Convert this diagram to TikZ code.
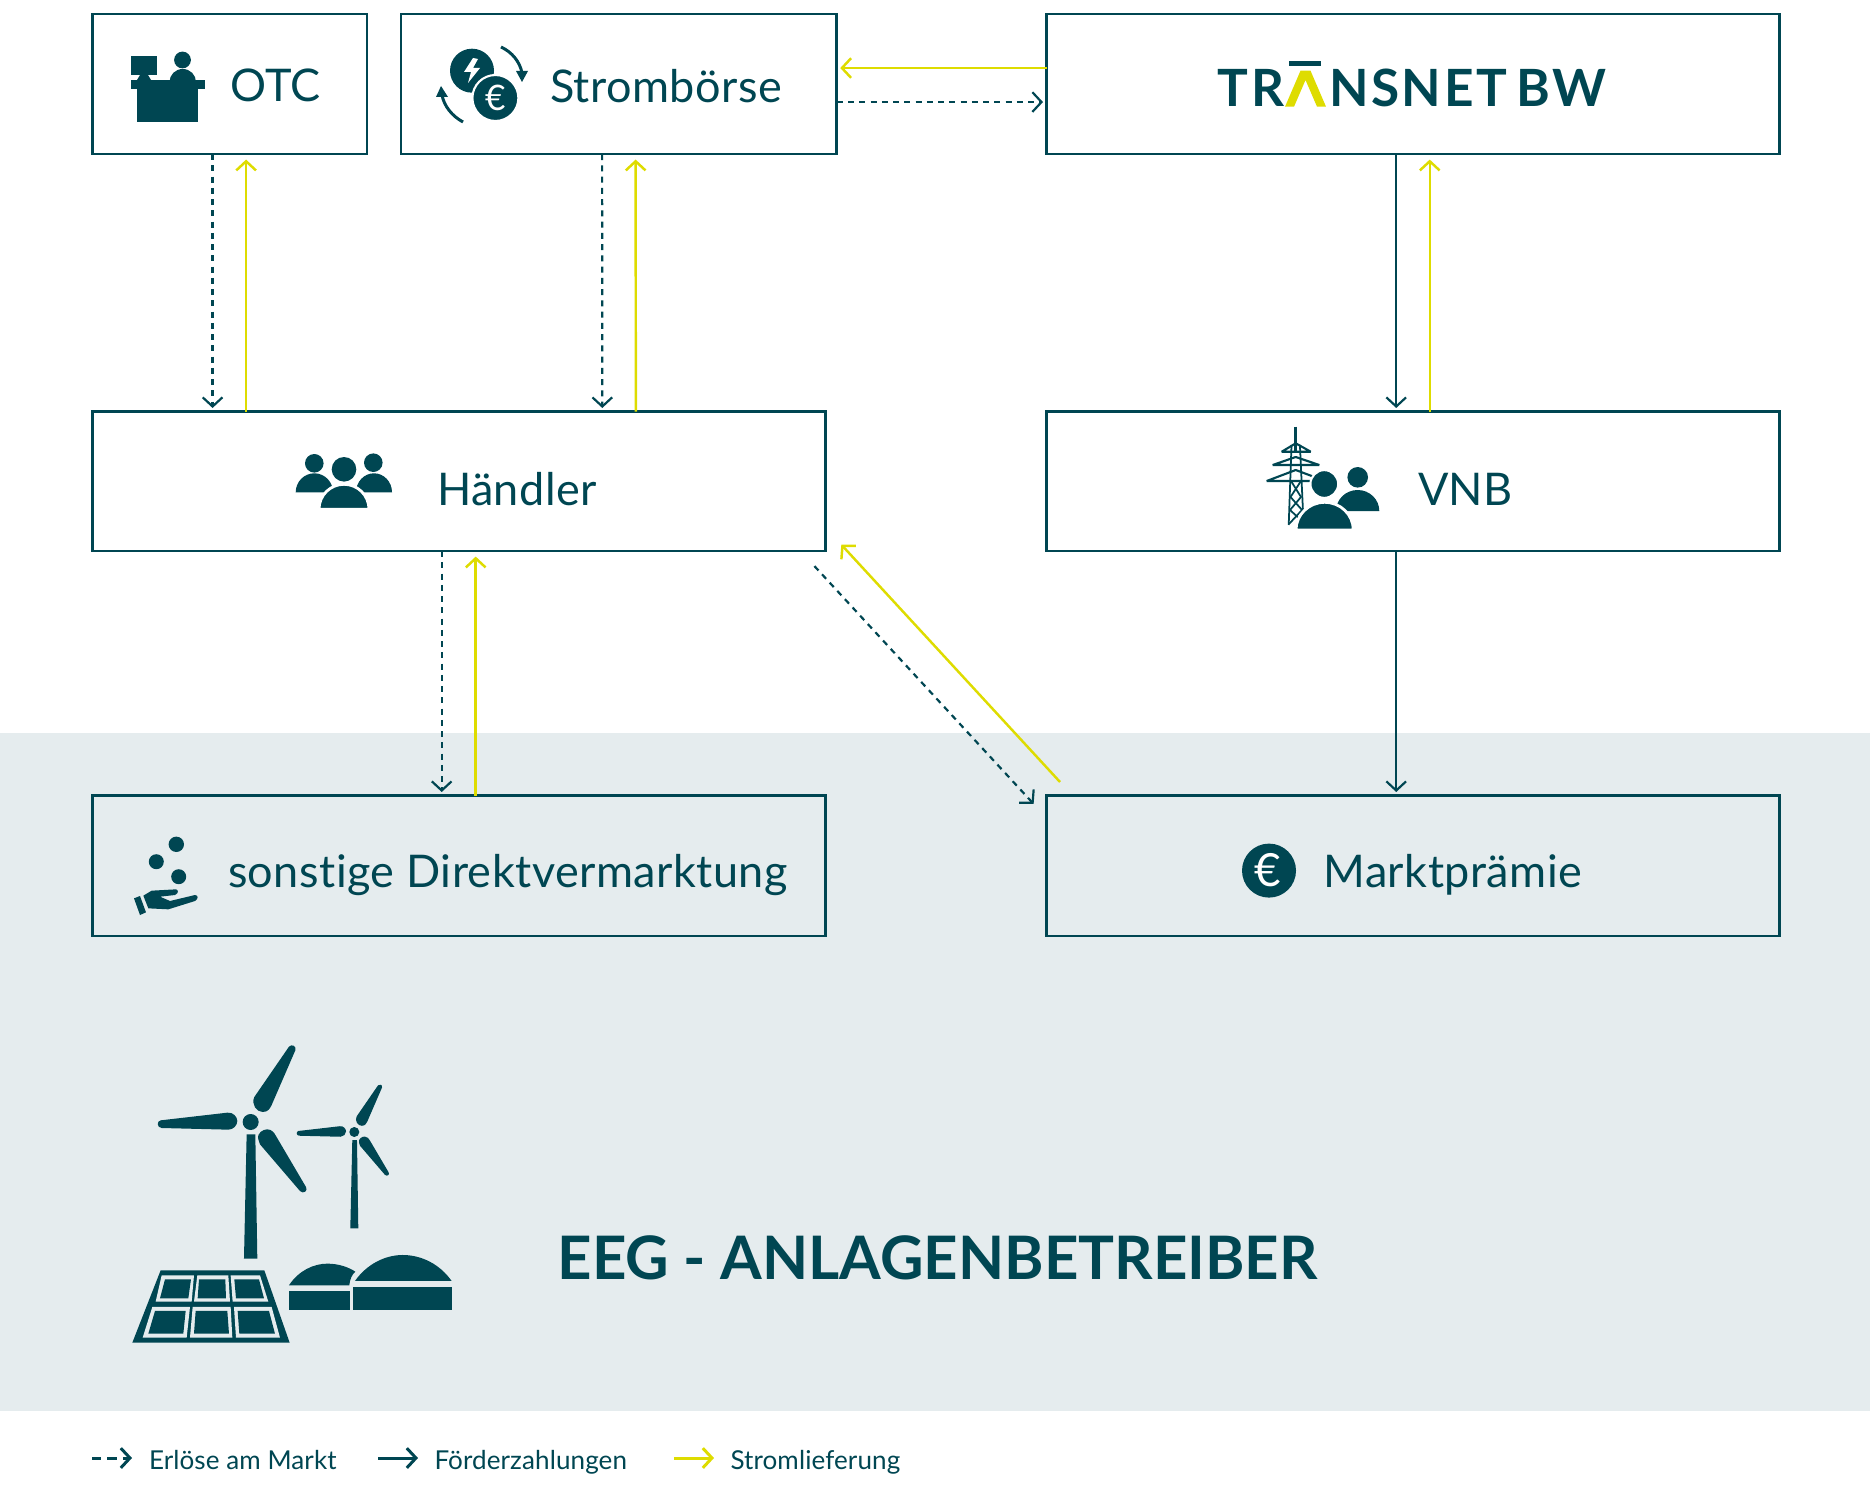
\documentclass[tikz,border=0pt]{standalone}
\usepackage{fontspec}
\setmainfont{Lato}[Ligatures=NoCommon]
\newfontfamily\labfont{Lato}[LetterSpace=1.0,Ligatures=NoCommon]
\newfontfamily\legfont{Lato}[LetterSpace=0.4,Ligatures=NoCommon]
\newfontfamily\logofont{Lato}[LetterSpace=5.0,Ligatures=NoCommon,UprightFont=* Bold]
\usetikzlibrary{arrows.meta}
\definecolor{dk}{HTML}{004652}
\definecolor{yl}{HTML}{DEDC00}
\definecolor{bgg}{HTML}{E5ECEE}
\tikzset{
  box/.style={draw=dk,line width=0.75pt,inner sep=0pt,outer sep=0pt,anchor=north west,minimum width=#1},
  box/.default=7.325cm,
  lab/.style={anchor=base west,inner sep=0pt,outer sep=0pt,text=dk,font=\fontsize{12.8}{14}\labfont},
  leg/.style={anchor=base west,inner sep=0pt,outer sep=0pt,text=dk,font=\fontsize{7.4}{9}\legfont},
  tip/.style={-{Straight Barb[length=2.6pt,width=5.6pt]},shorten >=0.035cm},
  solid arrow/.style={tip,draw=dk,line width=0.62pt},
  dash arrow/.style={tip,draw=dk,line width=0.62pt,dash pattern=on 1.7pt off 1.5pt},
  yellow arrow/.style={tip,draw=yl,line width=0.7pt,shorten >=0.055cm},
  halo/.style={fill=dk,draw=white,line width=0.8pt},
  plain/.style={fill=dk},
  logo/.style={anchor=base,inner sep=0pt,outer sep=0pt,text=dk,font=\fontsize{14.6}{16}\logofont}
}
\newcommand\domefill[5][plain]{%
  \pgfmathsetmacro\dmid{(#2+#3)/2}%
  \pgfmathsetmacro\dw{(#3-#2)/2*0.5523}%
  \pgfmathsetmacro\dh{(#5-#4)*0.5523}%
  \pgfmathsetmacro\da{\dmid-\dw}%
  \pgfmathsetmacro\db{\dmid+\dw}%
  \pgfmathsetmacro\dc{#5-\dh}%
  \path[#1] (#2,#5) .. controls (#2,\dc) and (\da,#4) .. (\dmid,#4) .. controls (\db,#4) and (#3,\dc) .. (#3,#5) -- cycle;%
}
\newcommand\turbineblades{%
  \fill[dk] (507,47) -- (403,198) .. controls (393,220) and (410,243) .. (428,243) .. controls (445,243) and (450,232) .. (455,222) -- (526,58) .. controls (530,45) and (515,38) .. (507,47) -- cycle;
  \fill[dk] (122,268) -- (322,245) .. controls (340,243) and (352,258) .. (352,270) .. controls (352,283) and (340,296) .. (325,296) -- (125,291) .. controls (110,290) and (110,270) .. (122,268) -- cycle;
  \fill[dk] (415,325) .. controls (410,305) and (430,295) .. (442,295) .. controls (455,295) and (463,305) .. (468,315) -- (558,468) .. controls (565,480) and (550,490) .. (540,480) -- (420,340) .. controls (418,335) and (416,330) .. (415,325) -- cycle;
}
\begin{document}
\begin{tikzpicture}[x=0.01cm,y=-0.01cm]
\useasboundingbox (0,0) rectangle (1870,1500);
% grey band
\fill[bgg] (0,733) rectangle (1870,1411);
% boxes
\node[box=2.745cm,minimum height=1.40cm] (otc) at (92.5,14) {};
\node[box=4.355cm,minimum height=1.40cm] (strom) at (401,14) {};
\node[box=7.325cm,minimum height=1.40cm] (transnet) at (1046.5,14) {};
\node[box=7.325cm,minimum height=1.395cm] (haendler) at (92.5,411.5) {};
\node[box=7.325cm,minimum height=1.395cm] (vnb) at (1046.5,411.5) {};
\node[box=7.325cm,minimum height=1.405cm] (direkt) at (92.5,795.5) {};
\node[box=7.325cm,minimum height=1.405cm] (markt) at (1046.5,795.5) {};
% labels
\node[lab] (lotc) at (230,102) {OTC};
\node[lab] (lstrom) at (550,103) {Strombörse};
\node[lab] (lhaendler) at (437,505) {Händler};
\node[lab] (lvnb) at (1418,505) {VNB};
\node[lab] (ldirekt) at (228,887.5) {sonstige Direktvermarktung};
\node[lab] (lmarkt) at (1323.5,887.5) {Marktprämie};
\node[anchor=base west,inner sep=0pt,text=dk,font=\fontsize{17.05}{20}\bfseries\selectfont] (leeg) at (557,1279.5) {EEG - ANLAGENBETREIBER};
% connectors
\draw[dash arrow] ([xshift=1.2cm]otc.south west) -- ([xshift=1.2cm]haendler.north west);
\draw[yellow arrow] ([xshift=1.535cm]haendler.north west) -- ([xshift=1.535cm]otc.south west);
\draw[dash arrow] ([xshift=2.01cm]strom.south west) -- ([xshift=5.095cm]haendler.north west);
\draw[yellow arrow] ([xshift=5.43cm]haendler.north west) -- ([xshift=2.345cm]strom.south west);
\draw[dash arrow] ([xshift=3.49cm]haendler.south west) -- ([xshift=3.49cm]direkt.north west);
\draw[yellow arrow] ([xshift=3.83cm]direkt.north west) -- ([xshift=3.83cm]haendler.south west);
\draw[solid arrow] ([xshift=3.495cm]transnet.south west) -- ([xshift=3.495cm]vnb.north west);
\draw[yellow arrow] ([xshift=3.83cm]vnb.north west) -- ([xshift=3.83cm]transnet.south west);
\draw[solid arrow] ([xshift=3.495cm]vnb.south west) -- ([xshift=3.495cm]markt.north west);
\draw[yellow arrow,shorten >=0.035cm] ([yshift=-0.54cm]transnet.north west) -- ([yshift=-0.54cm]strom.north east);
\draw[dash arrow] ([yshift=-0.88cm]strom.north east) -- ([yshift=-0.88cm]transnet.north west);
\draw[yellow arrow,shorten >=0.035cm] ([xshift=0.135cm,yshift=0.135cm]markt.north west) -- ([xshift=0.135cm,yshift=0.09cm]haendler.south east);
\draw[dash arrow] ([xshift=-0.11cm,yshift=-0.15cm]haendler.south east) -- ([xshift=-0.105cm,yshift=-0.11cm]markt.north west);
% OTC icon
\fill[dk] (131,56) rectangle (157,75);
\fill[dk] (140,75) -- (148,75) -- (151,80) -- (137,80) -- cycle;
\fill[dk] (182.5,60) circle[radius=8.4];
\domefill{169.5}{196}{69}{82}
\fill[dk] (131,80) rectangle (204.5,89);
\fill[dk] (137,89) rectangle (198,122);
% Stromboerse icon
\fill[dk] (472,70.7) circle[radius=22];
\fill[white] (473,58) -- (464,72) -- (471,72) -- (468,83) -- (480,68) -- (473,68) -- (478,59) -- cycle;
\fill[dk,draw=white,line width=0.6pt] (495.4,98) circle[radius=23];
\node[inner sep=0pt,text=white,font=\fontsize{10}{12}\selectfont] (eurostrom) at (495.4,98) {€};
\draw[dk,line width=0.85pt] (501,47) .. controls (512,52) and (520,62) .. (522,73);
\fill[dk] (516,71) -- (528,71) -- (522,82) -- cycle;
\draw[dk,line width=0.85pt] (463,122) .. controls (452,116) and (444,106) .. (442,95);
\fill[dk] (436,97) -- (448,97) -- (441,86) -- cycle;
% Transnet logo
\node[logo,anchor=base east] (logotr) at (1284,106.7) {TR};
\node[logo,anchor=base west] (logons) at (1329,106.7) {NSNET\hspace{-1.5pt} BW};
\fill[yl] (1285,106.7) -- (1300.5,70.7) -- (1310.5,70.7) -- (1326,106.7) -- (1317,106.7) -- (1305.5,80) -- (1294,106.7) -- cycle;
\fill[dk] (1289,61) rectangle (1321,66);
% Haendler icon
\fill[dk] (314.3,463.3) circle[radius=9.3];
\fill[dk] (373.3,462.7) circle[radius=9.3];
\domefill{295.7}{333}{473.3}{492.3}
\domefill{356}{392}{473.3}{492.3}
\fill[dk] (344,469.3) circle[radius=12.3];
\domefill[halo]{319}{369}{484.3}{509.3}
% VNB icon
\begin{scope}[draw=dk,line width=0.5pt,line join=bevel]
  \draw[line width=0.8pt] (1295.7,426.7) -- (1295.7,452);
  \draw[line width=0.6pt] (1281.7,451.7) -- (1295.7,443.3) -- (1310.7,451.7) -- cycle;
  \draw[line width=0.6pt] (1272.7,465) -- (1295.7,457) -- (1319.3,465) -- cycle;
  \draw[line width=0.6pt] (1266.7,481) -- (1295.7,470) -- (1325,481) -- cycle;
  \draw (1291.5,445) -- (1288.7,525);
  \draw (1299.9,445) -- (1303.3,518);
  \draw (1291,481) -- (1301,497) -- (1290,510) -- (1303,522);
  \draw (1301,481) -- (1290.5,497) -- (1302,510) -- (1289,524);
\end{scope}
\fill[dk] (1357.7,477.3) circle[radius=10.3];
\domefill{1336}{1379.3}{490}{511}
\fill[dk,draw=white,line width=0.6pt] (1324.3,484) circle[radius=13.9];
\domefill[halo]{1296}{1353.3}{502.3}{530}
% hand icon
\fill[dk] (176.3,844.3) circle[radius=7.7];
\fill[dk] (156.3,861.7) circle[radius=7.5];
\fill[dk] (178.7,876.7) circle[radius=7.5];
\begin{scope}[shift={(120,825)},scale=0.3333]
  \fill[dk] (42,220) -- (60,213) -- (78,262) -- (60,270) -- cycle;
  \fill[dk] (70,212) -- (95,197) -- (168,193) .. controls (176,195) and (176,205) .. (165,210) -- (120,215) -- (150,228) -- (225,210) .. controls (235,210) and (236,222) .. (225,228) -- (145,253) -- (85,250) -- cycle;
\end{scope}
% euro icon
\fill[dk] (1269,870.6) circle[radius=27];
\node[inner sep=0pt,text=white,font=\fontsize{13}{14}\selectfont] (euromarkt) at (1268,870) {€};
% EEG icon
\begin{scope}[shift={(120,1031)},scale=0.3333]
  \begin{scope}
    \turbineblades
  \end{scope}
  \fill[dk] (392,273) circle[radius=24];
  \fill[dk] (380,310) -- (406,310) -- (412,683) -- (372,683) -- cycle;
  \begin{scope}[shift={(703,303)},scale=0.62,shift={(-392,-273)}]
    \turbineblades
  \end{scope}
  \fill[dk] (703,303) circle[radius=15];
  \fill[dk] (697,327) -- (711,327) -- (715,592) -- (691,592) -- cycle;
  % solar panel
  \fill[dk] (122,718) -- (433,718) -- (509,935) -- (37,935) -- cycle;
  \fill[bgg] (125,733) -- (222,733) -- (215,812) -- (107,812) -- cycle;
  \fill[dk] (135,745) -- (213,745) -- (205,802) -- (120,802) -- cycle;
  \fill[bgg] (232,733) -- (325,733) -- (330,812) -- (222,812) -- cycle;
  \fill[dk] (237,745) -- (316,745) -- (318,802) -- (233,802) -- cycle;
  \fill[bgg] (332,733) -- (420,733) -- (445,812) -- (338,812) -- cycle;
  \fill[dk] (343,745) -- (417,745) -- (432,802) -- (348,802) -- cycle;
  \fill[bgg] (97,828) -- (210,828) -- (200,920) -- (68,920) -- cycle;
  \fill[dk] (105,840) -- (197,840) -- (190,908) -- (85,908) -- cycle;
  \fill[bgg] (218,828) -- (332,828) -- (337,920) -- (210,920) -- cycle;
  \fill[dk] (227,840) -- (322,840) -- (327,908) -- (222,908) -- cycle;
  \fill[bgg] (342,828) -- (455,828) -- (480,920) -- (348,920) -- cycle;
  \fill[dk] (353,840) -- (447,840) -- (465,908) -- (358,908) -- cycle;
  % biogas
  \fill[dk] (507,763) .. controls (535,720) and (580,698) .. (622,698) .. controls (655,698) and (685,708) .. (706,722) .. controls (695,732) and (690,745) .. (688,763) -- cycle;
  \fill[dk] (507,780) rectangle (690,836);
  \fill[dk] (705,750) .. controls (740,700) and (795,672) .. (848,672) .. controls (905,672) and (960,700) .. (995,750) -- cycle;
  \fill[dk] (700,768) rectangle (995,836);
\end{scope}
% legend
\coordinate (a1) at (92,1458);
\coordinate (a2) at (132,1458);
\coordinate (b1) at (378,1458);
\coordinate (b2) at (418,1458);
\coordinate (c1) at (674,1458);
\coordinate (c2) at (714,1458);
\draw[dash arrow,line width=0.85pt,shorten >=0pt,dash pattern=on 2.6pt off 1.8pt] (a1) -- (a2);
\draw[solid arrow,line width=0.85pt,shorten >=0pt] (b1) -- (b2);
\draw[yellow arrow,line width=0.85pt,shorten >=0pt] (c1) -- (c2);
\node[leg] (l1) at (149,1469) {Erlöse am Markt};
\node[leg] (l2) at (434.5,1469) {Förderzahlungen};
\node[leg] (l3) at (730.5,1469) {Stromlieferung};
\end{tikzpicture}
\end{document}
